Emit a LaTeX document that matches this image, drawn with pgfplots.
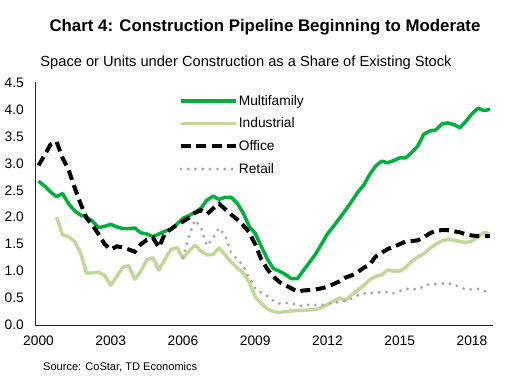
\documentclass[border=0pt]{standalone}
\usepackage{pgfplots}
\pgfplotsset{compat=1.18}
\usepackage{pgfplotstable}
\usepackage{fontspec}
\setmainfont{Liberation Sans}
\definecolor{mfgreen}{RGB}{0,176,60}
\definecolor{indgreen}{RGB}{196,215,155}
\definecolor{retgray}{RGB}{166,166,166}

\pgfplotstableread{
i v
0 2.67
1 2.58
2 2.47
3 2.38
4 2.44
5 2.25
6 2.12
7 2.04
8 2.00
9 1.92
10 1.81
11 1.83
12 1.87
13 1.82
14 1.79
15 1.79
16 1.80
17 1.71
18 1.69
19 1.64
20 1.69
21 1.74
22 1.78
23 1.87
24 1.98
25 2.03
26 2.09
27 2.17
28 2.32
29 2.39
30 2.33
31 2.37
32 2.37
33 2.26
34 2.08
35 1.83
36 1.70
37 1.46
38 1.23
39 1.05
40 1.00
41 0.94
42 0.86
43 0.86
44 1.01
45 1.16
46 1.31
47 1.50
48 1.69
49 1.83
50 1.98
51 2.13
52 2.29
53 2.46
54 2.59
55 2.79
56 2.95
57 3.04
58 3.01
59 3.05
60 3.10
61 3.10
62 3.20
63 3.32
64 3.54
65 3.60
66 3.62
67 3.73
68 3.75
69 3.72
70 3.66
71 3.78
72 3.92
73 4.02
74 3.98
75 4.00
}\multifamily

\pgfplotstableread{
i v
3 2.00
4 1.67
5 1.64
6 1.55
7 1.33
8 0.96
9 0.97
10 0.98
11 0.92
12 0.74
13 0.90
14 1.07
15 1.10
16 0.85
17 1.00
18 1.21
19 1.25
20 1.02
21 1.22
22 1.40
23 1.44
24 1.24
25 1.37
26 1.48
27 1.37
28 1.30
29 1.31
30 1.43
31 1.30
32 1.17
33 1.06
34 0.97
35 0.80
36 0.52
37 0.40
38 0.30
39 0.25
40 0.23
41 0.25
42 0.26
43 0.27
44 0.27
45 0.28
46 0.29
47 0.32
48 0.38
49 0.44
50 0.50
51 0.46
52 0.56
53 0.64
54 0.73
55 0.84
56 0.90
57 0.93
58 1.02
59 1.00
60 1.00
61 1.07
62 1.18
63 1.26
64 1.32
65 1.42
66 1.50
67 1.56
68 1.59
69 1.57
70 1.55
71 1.53
72 1.56
73 1.63
74 1.72
75 1.69
}\industrial

\pgfplotstableread{
i v
0 2.96
1 3.15
2 3.35
3 3.40
4 3.10
5 2.88
6 2.55
7 2.25
8 1.98
9 1.85
10 1.68
11 1.50
12 1.40
13 1.46
14 1.44
15 1.40
16 1.36
17 1.50
18 1.58
19 1.62
20 1.44
21 1.70
22 1.78
23 1.86
24 1.92
25 1.99
26 2.08
27 2.13
28 2.06
29 2.16
30 2.25
31 2.15
32 2.05
33 1.96
34 1.85
35 1.72
36 1.50
37 1.22
38 1.04
39 0.90
40 0.80
41 0.74
42 0.68
43 0.62
44 0.64
45 0.65
46 0.66
47 0.68
48 0.71
49 0.76
50 0.81
51 0.88
52 0.92
53 0.98
54 1.06
55 1.12
56 1.27
57 1.34
58 1.41
59 1.45
60 1.50
61 1.55
62 1.56
63 1.57
64 1.63
65 1.70
66 1.75
67 1.76
68 1.76
69 1.74
70 1.72
71 1.68
72 1.66
73 1.65
74 1.65
75 1.65
}\office

\pgfplotstableread{
i v
24 1.25
25 1.65
26 1.95
27 1.80
28 1.47
29 1.62
30 1.80
31 1.66
32 1.35
33 1.22
34 1.10
35 0.88
36 0.68
37 0.60
38 0.54
39 0.45
40 0.40
41 0.41
42 0.40
43 0.37
44 0.35
45 0.38
46 0.37
47 0.37
48 0.39
49 0.41
50 0.43
51 0.45
52 0.49
53 0.55
54 0.59
55 0.59
56 0.60
57 0.61
58 0.61
59 0.59
60 0.63
61 0.67
62 0.67
63 0.66
64 0.72
65 0.76
66 0.76
67 0.77
68 0.77
69 0.75
70 0.70
71 0.66
72 0.66
73 0.67
74 0.63
75 0.62
}\retail

\begin{document}
\begin{tikzpicture}
\useasboundingbox (0bp,0bp) rectangle (516bp,385bp);
\node[font=\bfseries\fontsize{16.9}{20}\selectfont] at (265bp,358bp) {Chart 4: Construction Pipeline Beginning to Moderate};
\node[font=\fontsize{14.7}{17}\selectfont] at (246bp,322bp) {Space or Units under Construction as a Share of Existing Stock};
\node[font=\fontsize{11.1}{13}\selectfont, anchor=west, inner sep=0pt] at (43bp,18bp) {Source: CoStar, TD Economics};
\begin{axis}[
  at={(35.5bp,60bp)}, anchor=south west,
  width=457.5bp, height=242.5bp, scale only axis,
  xmin=-0.5, xmax=75.5, ymin=0, ymax=4.5,
  axis x line*=bottom, axis y line*=left,
  axis line style={-, black!85, line width=0.9bp},
  major tick length=0pt,
  xtick={0,12,24,36,48,60,72},
  xticklabels={2000,2003,2006,2009,2012,2015,2018},
  ytick={0,0.5,...,4.5},
  /pgf/number format/assume math mode=true,
  yticklabel style={/pgf/number format/fixed, /pgf/number format/zerofill, /pgf/number format/precision=1, anchor=east, inner sep=0pt, xshift=-11.5bp},
  xticklabel style={anchor=north, inner sep=0pt, yshift=-11bp},
  tick label style={font=\fontsize{13.8}{16}\selectfont},
  legend image code/.code={\draw[#1] (0bp,0bp) -- (55bp,0bp);},
  legend style={at={(0.313,0.952)}, anchor=north west, draw=none, fill=none,
    font=\fontsize{13.8}{16}\selectfont, row sep=9.2bp, inner sep=0pt,
    nodes={inner sep=1bp}, cells={anchor=west}},
  clip=false,
]
\addplot[mfgreen, line width=3.5bp, line join=round] table[x=i,y=v] {\multifamily};
\addlegendentry{Multifamily}
\addplot[indgreen, line width=3.5bp, line join=round] table[x=i,y=v] {\industrial};
\addlegendentry{Industrial}
\addplot[black, line width=4bp, dash pattern=on 10bp off 5.5bp] table[x=i,y=v] {\office};
\addlegendentry{Office}
\addplot[retgray, line width=3.2bp, line cap=round, dash pattern=on 0bp off 7.3bp] table[x=i,y=v] {\retail};
\addlegendentry{Retail}
\end{axis}
\end{tikzpicture}
\end{document}
